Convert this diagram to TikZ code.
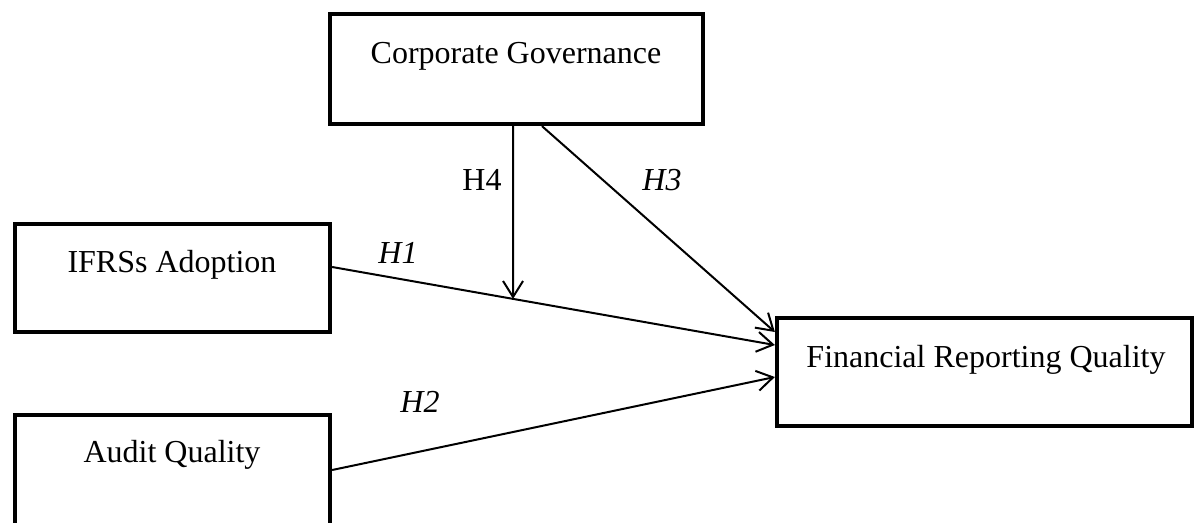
\documentclass[tikz,border=0pt]{standalone}
\usepackage{fontspec}
\setmainfont{Liberation Serif}
\usetikzlibrary{arrows.meta,calc}
\begin{document}
\begin{tikzpicture}[x=0.75pt,y=-0.75pt,
  box/.style={draw,line width=3.2pt,inner sep=0pt,minimum width=#1},
  txt/.style={anchor=base,inner sep=0pt,font=\fontsize{24}{28}\selectfont},
  hyp/.style={anchor=base,inner sep=0pt,font=\fontsize{24}{28}\selectfont\itshape},
  conn/.style={line width=1.5pt,-{Straight Barb[length=12pt,width=15pt,line width=1.5pt]}},
  plain/.style={line width=1.5pt}]
\useasboundingbox (0,0) rectangle (1195,522);
% boxes
\node[box=373*0.75pt,minimum height=110*0.75pt] (cg) at (516.5,69) {};
\node[box=315*0.75pt,minimum height=108*0.75pt] (ifrs) at (172.5,278) {};
\node[box=315*0.75pt,minimum height=110*0.75pt] (aq) at (172.5,470) {};
\node[box=415*0.75pt,minimum height=108*0.75pt] (frq) at (984.5,372) {};
% box texts
\node[txt] (cgt) at (516,63) {Corporate Governance};
\node[txt] (ifrst) at (172,272) {IFRSs Adoption};
\node[txt] (aqt) at (172,462) {Audit Quality};
\node[txt] (frqt) at (986,367) {Financial Reporting Quality};
% connector end points
\coordinate (h1s) at (ifrs.east |- 0,267);
\coordinate (h1e) at (frq.west |- 0,345);
\coordinate (h2s) at (aq.east |- 0,470);
\coordinate (h2e) at (frq.west |- 0,377);
\coordinate (h3s) at (cg.south -| 542,0);
\coordinate (h3e) at (frq.west |- 0,332);
\coordinate (h4s) at (cg.south -| 513,0);
\coordinate (h4e) at ($(h1s)!0.4086!(h1e)$);
% connectors
\draw[conn] (h1s) -- (h1e);
\draw[conn] (h2s) -- (h2e);
\draw[conn] (h3s) -- (h3e);
\draw[conn] (h4s) -- (h4e);
% labels
\node[hyp] (l1) at (398,263) {H1};
\node[hyp] (l2) at (420,412) {H2};
\node[hyp] (l3) at (662,190) {H3};
\node[txt] (l4) at (482,190) {H4};
\end{tikzpicture}
\end{document}
